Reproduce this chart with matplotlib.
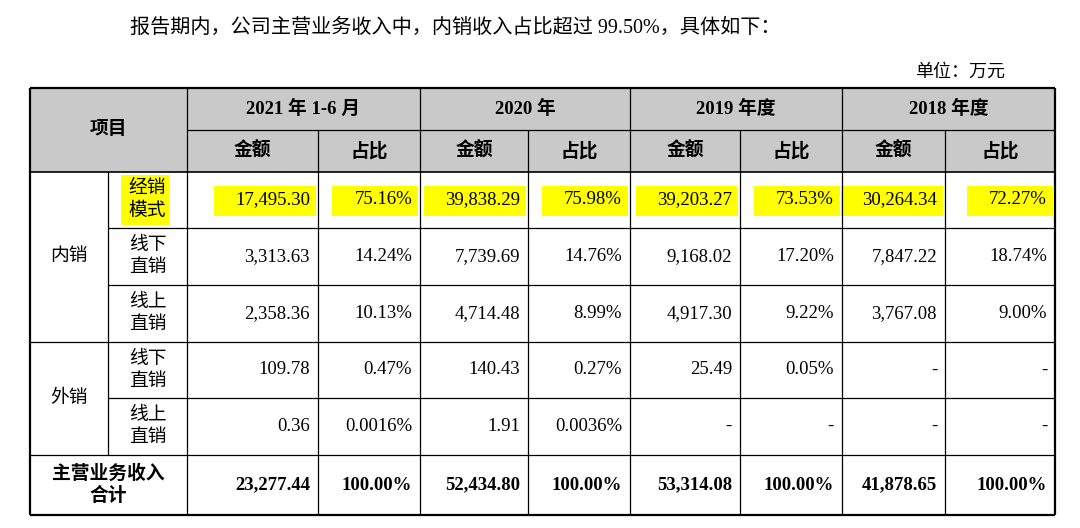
import matplotlib
matplotlib.use("Agg")
import matplotlib.pyplot as plt

FONT = ['Liberation Serif', 'Noto Sans CJK SC']
title = "报告期内，公司主营业务收入中，内销收入占比超过 99.50%，具体如下："
unit = "单位：万元"
periods = ["2021 年 1-6 月", "2020 年", "2019 年度", "2018 年度"]
subheads = ["金额", "占比"]
groups = ["内销", "外销"]
channels = ["经销\n模式", "线下\n直销", "线上\n直销", "线下\n直销", "线上\n直销"]
amounts = [
    ["17,495.30", "39,838.29", "39,203.27", "30,264.34"],
    ["3,313.63", "7,739.69", "9,168.02", "7,847.22"],
    ["2,358.36", "4,714.48", "4,917.30", "3,767.08"],
    ["109.78", "140.43", "25.49", "-"],
    ["0.36", "1.91", "-", "-"],
]
shares = [
    ["75.16%", "75.98%", "73.53%", "72.27%"],
    ["14.24%", "14.76%", "17.20%", "18.74%"],
    ["10.13%", "8.99%", "9.22%", "9.00%"],
    ["0.47%", "0.27%", "0.05%", "-"],
    ["0.0016%", "0.0036%", "-", "-"],
]
total_label = "主营业务收入\n合计"
total_amounts = ["23,277.44", "52,434.80", "53,314.08", "41,878.65"]
total_shares = ["100.00%", "100.00%", "100.00%", "100.00%"]

fig = plt.figure(figsize=(10.8, 5.28), dpi=100)
ax = fig.add_axes([0, 0, 1, 1])
ax.set_xlim(0, 1080); ax.set_ylim(528, 0); ax.axis('off')

xs = [30, 108, 187, 318, 420, 528, 630, 740, 842, 945, 1055]
ys = [88, 130, 172, 228, 285, 342, 398, 455, 515]
fs = 13.5

ax.text(130, 28, title, fontsize=14.5, family=FONT, va='center', ha='left')
ax.text(1005, 72, unit, fontsize=13, family=FONT, va='center', ha='right')

ax.add_patch(plt.Rectangle((xs[0], ys[0]), xs[-1]-xs[0], ys[2]-ys[0], facecolor='#c9c9c9', edgecolor='none'))

# yellow highlight of first data row
ax.add_patch(plt.Rectangle((121, ys[2]+3), 49, ys[3]-ys[2]-6, facecolor='#ffff00', edgecolor='none'))
for j in range(2, 10):
    w = 102 if j % 2 == 0 else 86
    ax.add_patch(plt.Rectangle((xs[j+1]-2-w, ys[2]+14), w, 30, facecolor='#ffff00', edgecolor='none'))

def line(x0, y0, x1, y1, lw=0.9):
    ax.plot([x0, x1], [y0, y1], color='black', lw=lw, solid_capstyle='butt')

for y in (ys[0], ys[-1]):
    line(xs[0], y, xs[-1], y, 1.6)
for x in (xs[0], xs[-1]):
    line(x, ys[0], x, ys[-1], 1.6)
line(xs[0], ys[2], xs[-1], ys[2], 1.2)
line(xs[2], ys[1], xs[-1], ys[1])
for i in range(3, 8):
    x0 = xs[0] if i in (5, 7) else xs[1]
    line(x0, ys[i], xs[-1], ys[i])
line(xs[1], ys[2], xs[1], ys[7])
line(xs[2], ys[0], xs[2], ys[-1])
for j in (4, 6, 8):
    line(xs[j], ys[0], xs[j], ys[-1])
for j in (3, 5, 7, 9):
    line(xs[j], ys[1], xs[j], ys[-1])

ax.text((xs[0]+xs[2])/2, (ys[0]+ys[2])/2, "项目", fontsize=fs, weight='bold', family=FONT, ha='center', va='center')
for k, p in enumerate(periods):
    ax.text((xs[2+2*k]+xs[4+2*k])/2, (ys[0]+ys[1])/2, p, fontsize=fs, weight='bold', family=FONT, ha='center', va='center')
    for s in range(2):
        ax.text((xs[2+2*k+s]+xs[3+2*k+s])/2, (ys[1]+ys[2])/2, subheads[s], fontsize=fs, weight='bold', family=FONT, ha='center', va='center')

ax.text((xs[0]+xs[1])/2, (ys[2]+ys[5])/2, groups[0], fontsize=fs, family=FONT, ha='center', va='center')
ax.text((xs[0]+xs[1])/2, (ys[5]+ys[7])/2, groups[1], fontsize=fs, family=FONT, ha='center', va='center')

for r in range(5):
    yc = (ys[2+r]+ys[3+r])/2
    ax.text((xs[1]+xs[2])/2, yc, channels[r], fontsize=fs, family=FONT, ha='center', va='center', linespacing=1.4)
    for k in range(4):
        for s, val in enumerate((amounts[r][k], shares[r][k])):
            ax.text(xs[3+2*k+s] - 8, yc, val, fontsize=fs, family=FONT, ha='right', va='center')

yc = (ys[7]+ys[8])/2
ax.text((xs[0]+xs[2])/2, yc, total_label, fontsize=fs, weight='bold', family=FONT, ha='center', va='center', linespacing=1.3)
for k in range(4):
    for s, val in enumerate((total_amounts[k], total_shares[k])):
        ax.text(xs[3+2*k+s]-8, yc, val, fontsize=fs, weight='bold', family=FONT, ha='right', va='center')

fig.savefig("out.png", dpi=100)
